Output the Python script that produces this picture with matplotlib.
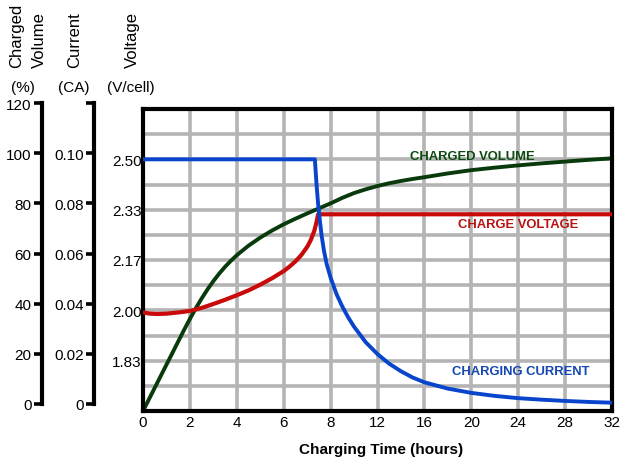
import numpy as np
import matplotlib
matplotlib.use("Agg")
import matplotlib.pyplot as plt
from matplotlib import font_manager

# ---------------- data ----------------
x_ticks = [0, 2, 4, 6, 8, 12, 16, 20, 24, 28, 32]

volume_hours = [0, 0.5, 1, 1.5, 1.75, 2, 2.25, 2.5, 2.75, 3, 3.25, 3.5, 3.75, 4, 4.5,
                5, 5.5, 6, 6.5, 7, 7.5, 8, 9, 10, 11, 12, 13, 14, 15, 16, 18, 20, 22,
                24, 26, 28, 30, 32]
volume_pct = [0, 9.2, 18.4, 27.6, 32.2, 36.6, 40.8, 44.7, 48.3, 51.6, 54.6, 57.3,
              59.7, 61.9, 65.7, 68.9, 71.7, 74.2, 76.4, 78.5, 80.5, 82.5, 84.7,
              86.6, 88.1, 89.4, 90.5, 91.4, 92.2, 92.9, 94.4, 95.7, 96.7, 97.6,
              98.4, 99.1, 99.8, 100.4]

voltage_hours = [0, 0.3, 0.6, 1, 1.5, 2, 2.5, 3, 3.5, 4, 4.5, 5, 5.5, 6, 6.25, 6.5,
                 6.75, 7.0, 7.15, 7.3, 7.4, 7.47, 32]
voltage_v = [1.993, 1.989, 1.988, 1.989, 1.993, 1.998, 2.008, 2.021, 2.035, 2.05,
             2.066, 2.085, 2.106, 2.13, 2.145, 2.162, 2.183, 2.21, 2.232, 2.262,
             2.292, 2.318, 2.318]

current_hours = [0, 7.33, 7.4, 7.47, 7.55, 7.62, 7.72, 7.83, 8, 8.5, 9, 9.5, 10, 11,
                 12, 13, 14, 15, 16, 18, 20, 22, 24, 26, 28, 30, 32]
current_ca = [0.100, 0.100, 0.090, 0.082, 0.075, 0.0695, 0.0635, 0.0585, 0.053,
              0.0465, 0.0415, 0.0372, 0.0335, 0.0273, 0.0226, 0.0188, 0.0158,
              0.0133, 0.0114, 0.0089, 0.0072, 0.0060, 0.0051, 0.0045, 0.0040,
              0.0036, 0.0033]

volume_ticks = [0, 20, 40, 60, 80, 100, 120]
volume_labels = ["0", "20", "40", "60", "80", "100", "120"]
current_ticks = [0, 0.02, 0.04, 0.06, 0.08, 0.10, 0.12]
current_labels = ["0", "0.02", "0.04", "0.06", "0.08", "0.10", ""]
voltage_ticks = [11 / 6, 2.0, 13 / 6, 7 / 3, 2.5]
voltage_labels = ["1.83", "2.00", "2.17", "2.33", "2.50"]

# ---------------- style ----------------
names = {f.name for f in font_manager.fontManager.ttflist}
BASE = "Liberation Sans" if "Liberation Sans" in names else "DejaVu Sans"
NARROW = "Liberation Sans Narrow" in names
plt.rcParams["font.family"] = [BASE, "DejaVu Sans"]

GREEN = "#093a0c"
RED = "#c80a0a"
BLUE = "#0844cc"
GRID = "#b4b4b4"


def fwd(h):
    h = np.asarray(h, dtype=float)
    return np.where(h <= 8, h / 2.0, 4.0 + (h - 8.0) / 4.0)


def inv(u):
    u = np.asarray(u, dtype=float)
    return np.where(u <= 4, 2.0 * u, 8.0 + 4.0 * (u - 4.0))


W, H = 624, 464
fig = plt.figure(figsize=(W / 100, H / 100), dpi=100)

ax = fig.add_axes([143 / W, 1 - 412 / H, 469 / W, 302 / H])
ax.set_xscale("function", functions=(fwd, inv))
ax.set_xlim(0, 32)
ax.set_ylim(0, 120)
ax.set_xticks(x_ticks)
ax.set_xticklabels([str(t) for t in x_ticks])
ax.set_yticks(np.arange(0, 121, 10))
ax.set_yticklabels([])
ax.tick_params(axis="both", length=0)
ax.tick_params(axis="x", pad=3, labelsize=11)
ax.xaxis.set_minor_locator(matplotlib.ticker.NullLocator())
ax.grid(True, color=GRID, lw=2.6)
ax.set_axisbelow(True)
for s in ax.spines.values():
    s.set_linewidth(3.0)
    s.set_color("black")

axv = ax.twinx()
axv.set_ylim(5 / 3, 5 / 3 + 1.0)
axv.yaxis.tick_left()
axv.set_yticks(voltage_ticks)
axv.set_yticklabels(voltage_labels)
axv.tick_params(axis="y", length=0, pad=1, labelsize=11)
for s in axv.spines.values():
    s.set_visible(False)

axc = ax.twinx()
axc.set_ylim(0, 0.12)
axc.set_yticks([])
for s in axc.spines.values():
    s.set_visible(False)

ax.plot(volume_hours, volume_pct, color=GREEN, lw=2.8, solid_joinstyle="round")
axv.plot(voltage_hours, voltage_v, color=RED, lw=3.0, solid_joinstyle="round")
axc.plot(current_hours, current_ca, color=BLUE, lw=2.8, solid_joinstyle="round")

# inline labels
if NARROW:
    lab_kw = dict(family=["Liberation Sans Narrow", BASE], fontsize=11.2, fontweight="bold")
else:
    lab_kw = dict(fontsize=9.4, fontweight="bold")
ax.text((410 - 143) / 469, (412 - 157) / 302, "CHARGED VOLUME", color="#0d4a10",
        transform=ax.transAxes, ha="left", va="center", **lab_kw)
ax.text((458 - 143) / 469, (412 - 225) / 302, "CHARGE VOLTAGE", color="#b81212",
        transform=ax.transAxes, ha="left", va="center", **lab_kw)
ax.text((452 - 143) / 469, (412 - 372) / 302, "CHARGING CURRENT", color="#1446b4",
        transform=ax.transAxes, ha="left", va="center", **lab_kw)


# left scale axes
def side_axis(xpx, ylim, ticks, labels):
    a = fig.add_axes([xpx / W, 1 - 405 / H, 0.0001, 301 / H])
    a.patch.set_visible(False)
    for k in ("top", "right", "bottom"):
        a.spines[k].set_visible(False)
    a.spines["left"].set_linewidth(3.0)
    a.spines["left"].set_capstyle("projecting")
    a.set_ylim(*ylim)
    a.set_xticks([])
    a.set_yticks(ticks)
    a.set_yticklabels(labels)
    a.tick_params(axis="y", direction="out", length=6, width=2.6, pad=1.5, labelsize=11)
    return a


side_axis(42, (0, 120), volume_ticks, volume_labels)
side_axis(94, (0, 0.12), current_ticks, current_labels)

# header texts
ytop = 1 - 68 / H
fig.text(17 / W, ytop, "Charged", rotation=90, ha="center", va="bottom", fontsize=12)
fig.text(39 / W, ytop, "Volume", rotation=90, ha="center", va="bottom", fontsize=12)
fig.text(75 / W, ytop, "Current", rotation=90, ha="center", va="bottom", fontsize=12)
fig.text(132 / W, ytop, "Voltage", rotation=90, ha="center", va="bottom", fontsize=12)
yu = 1 - 88 / H
fig.text(23 / W, yu, "(%)", ha="center", va="center", fontsize=11)
fig.text(74 / W, yu, "(CA)", ha="center", va="center", fontsize=11)
fig.text(131 / W, yu, "(V/cell)", ha="center", va="center", fontsize=11)

fig.text(381 / W, 1 - 450 / H, "Charging Time (hours)", ha="center", va="center",
         fontsize=11, fontweight="bold")

fig.savefig("out.png", dpi=100)
